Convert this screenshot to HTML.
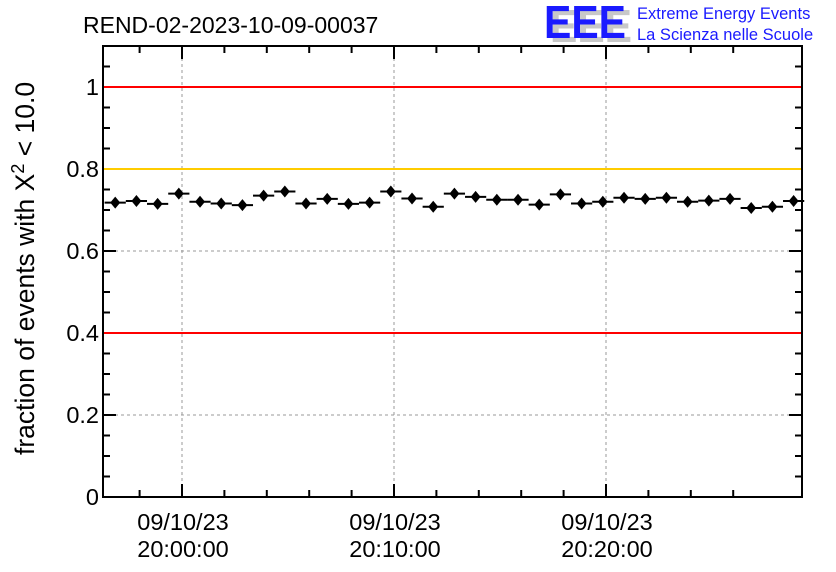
<!DOCTYPE html>
<html><head><meta charset="utf-8"><style>
body{margin:0;background:#fff;}
svg{display:block;font-family:"Liberation Sans",sans-serif;}
</style></head><body>
<svg id="chart" width="836" height="572" xmlns="http://www.w3.org/2000/svg">
<rect x="0" y="0" width="836" height="572" fill="#fff"/>
<text x="83" y="33" font-size="23">REND-02-2023-10-09-00037</text>
<g>
<text x="550" y="42" font-size="46" font-weight="bold" fill="#c8c8c8" textLength="82" lengthAdjust="spacingAndGlyphs">EEE</text>
<text x="544" y="38" font-size="46" font-weight="bold" fill="#1a1aff" textLength="82" lengthAdjust="spacingAndGlyphs">EEE</text>
<text x="637" y="19" font-size="16.5" fill="#1a1aff">Extreme Energy Events</text>
<text x="637" y="40" font-size="16.5" fill="#1a1aff">La Scienza nelle Scuole</text>
</g>
<g id="grid"></g>
<g id="axes"></g>
<g id="reflines"></g>
<g id="points"></g>
<text transform="translate(34,455) rotate(-90)" font-size="26.5">fraction of events with X<tspan dy="-10" font-size="18">2</tspan><tspan dy="10"> &lt; 10.0</tspan></text>
</svg>
<script>
const values=[0.718,0.722,0.715,0.740,0.720,0.716,0.712,0.735,0.745,0.716,0.727,0.715,0.718,0.745,0.728,0.708,0.740,0.732,0.725,0.725,0.713,0.738,0.716,0.720,0.730,0.727,0.730,0.720,0.723,0.727,0.705,0.708,0.722];
const errors=[0.01,0.01,0.01,0.01,0.01,0.01,0.01,0.01,0.01,0.01,0.01,0.01,0.01,0.01,0.01,0.01,0.01,0.01,0.01,0.01,0.01,0.01,0.01,0.01,0.01,0.01,0.01,0.01,0.01,0.01,0.01,0.01,0.01];
const yTicks=[0,0.2,0.4,0.6,0.8,1];
const yTickLabels=["0","0.2","0.4","0.6","0.8","1"];
const xTicksMin=[0,10,20];
const xTickDates=["09/10/23","09/10/23","09/10/23"];
const xTickTimes=["20:00:00","20:10:00","20:20:00"];
const refLines=[{v:1,c:"#ff0000"},{v:0.8,c:"#ffcc00"},{v:0.4,c:"#ff0000"}];
const startMin=-3.65;
const L=103,R=802,T=46,B=497,YMAX=1.1;
const pxPerMin=21.2;
const X=m=>182+m*pxPerMin;
const Y=v=>B-(v/YMAX)*(B-T);
const NS="http://www.w3.org/2000/svg";
function mk(p,tag,a){const e=document.createElementNS(NS,tag);for(const k in a)e.setAttribute(k,a[k]);p.appendChild(e);return e;}
const grid=document.getElementById('grid'),axes=document.getElementById('axes'),pts=document.getElementById('points'),refs=document.getElementById('reflines');
yTicks.forEach((v,i)=>{
 if(v>0&&v<1){const g=mk(grid,'line',{x1:L,x2:R,y1:Y(v),y2:Y(v),stroke:'#999','stroke-dasharray':'3,3','stroke-width':1});
 
 }
 const t=mk(axes,'text',{x:L-4,y:Y(v)+8,'font-size':23.5,'text-anchor':'end'});t.textContent=yTickLabels[i];
 
 
});
xTicksMin.forEach((m,i)=>{
 const g=mk(grid,'line',{x1:X(m),x2:X(m),y1:T,y2:B,stroke:'#999','stroke-dasharray':'3,3','stroke-width':1});
 
 
 const t1=mk(axes,'text',{x:X(m)+1,y:530,'font-size':23.5,'text-anchor':'middle'});t1.textContent=xTickDates[i];
 
 
 const t2=mk(axes,'text',{x:X(m)+1,y:557,'font-size':23.5,'text-anchor':'middle'});t2.textContent=xTickTimes[i];
 
 
});
const fr=mk(axes,'rect',{x:L,y:T,width:R-L,height:B-T,fill:'none',stroke:'#000','stroke-width':2});


for(let k=0;k<=22;k++){const v=k*0.05;const len=(k%4===0)?13:7;
 mk(axes,'line',{x1:L,x2:L+len,y1:Y(v),y2:Y(v),stroke:'#000','stroke-width':2});
 mk(axes,'line',{x1:R,x2:R-len,y1:Y(v),y2:Y(v),stroke:'#000','stroke-width':2});}
for(let m=-2;m<=26;m+=2){const x=X(m);if(x<L||x>R)continue;const len=(m%10===0)?13:7;
 mk(axes,'line',{x1:x,x2:x,y1:B,y2:B-len,stroke:'#000','stroke-width':2});
 mk(axes,'line',{x1:x,x2:x,y1:T,y2:T+len,stroke:'#000','stroke-width':2});}
refLines.forEach(r=>{const l=mk(refs,'line',{x1:L+1,x2:R-1,y1:Y(r.v),y2:Y(r.v),stroke:r.c,'stroke-width':2});
 
 });
values.forEach((v,i)=>{
 const x0=X(startMin+i),x1=X(startMin+i+1),xc=(x0+x1)/2,y=Y(v);
 const g=mk(pts,'g',{});
 
 
 mk(g,'line',{x1:x0,x2:x1,y1:y,y2:y,stroke:'#000','stroke-width':2});
 mk(g,'line',{x1:xc,x2:xc,y1:Y(v+errors[i]),y2:Y(v-errors[i]),stroke:'#000','stroke-width':2});
 mk(g,'polygon',{points:`${xc},${y-6} ${xc+5},${y} ${xc},${y+6} ${xc-5},${y}`,fill:'#000'});
});
</script>
</body></html>
